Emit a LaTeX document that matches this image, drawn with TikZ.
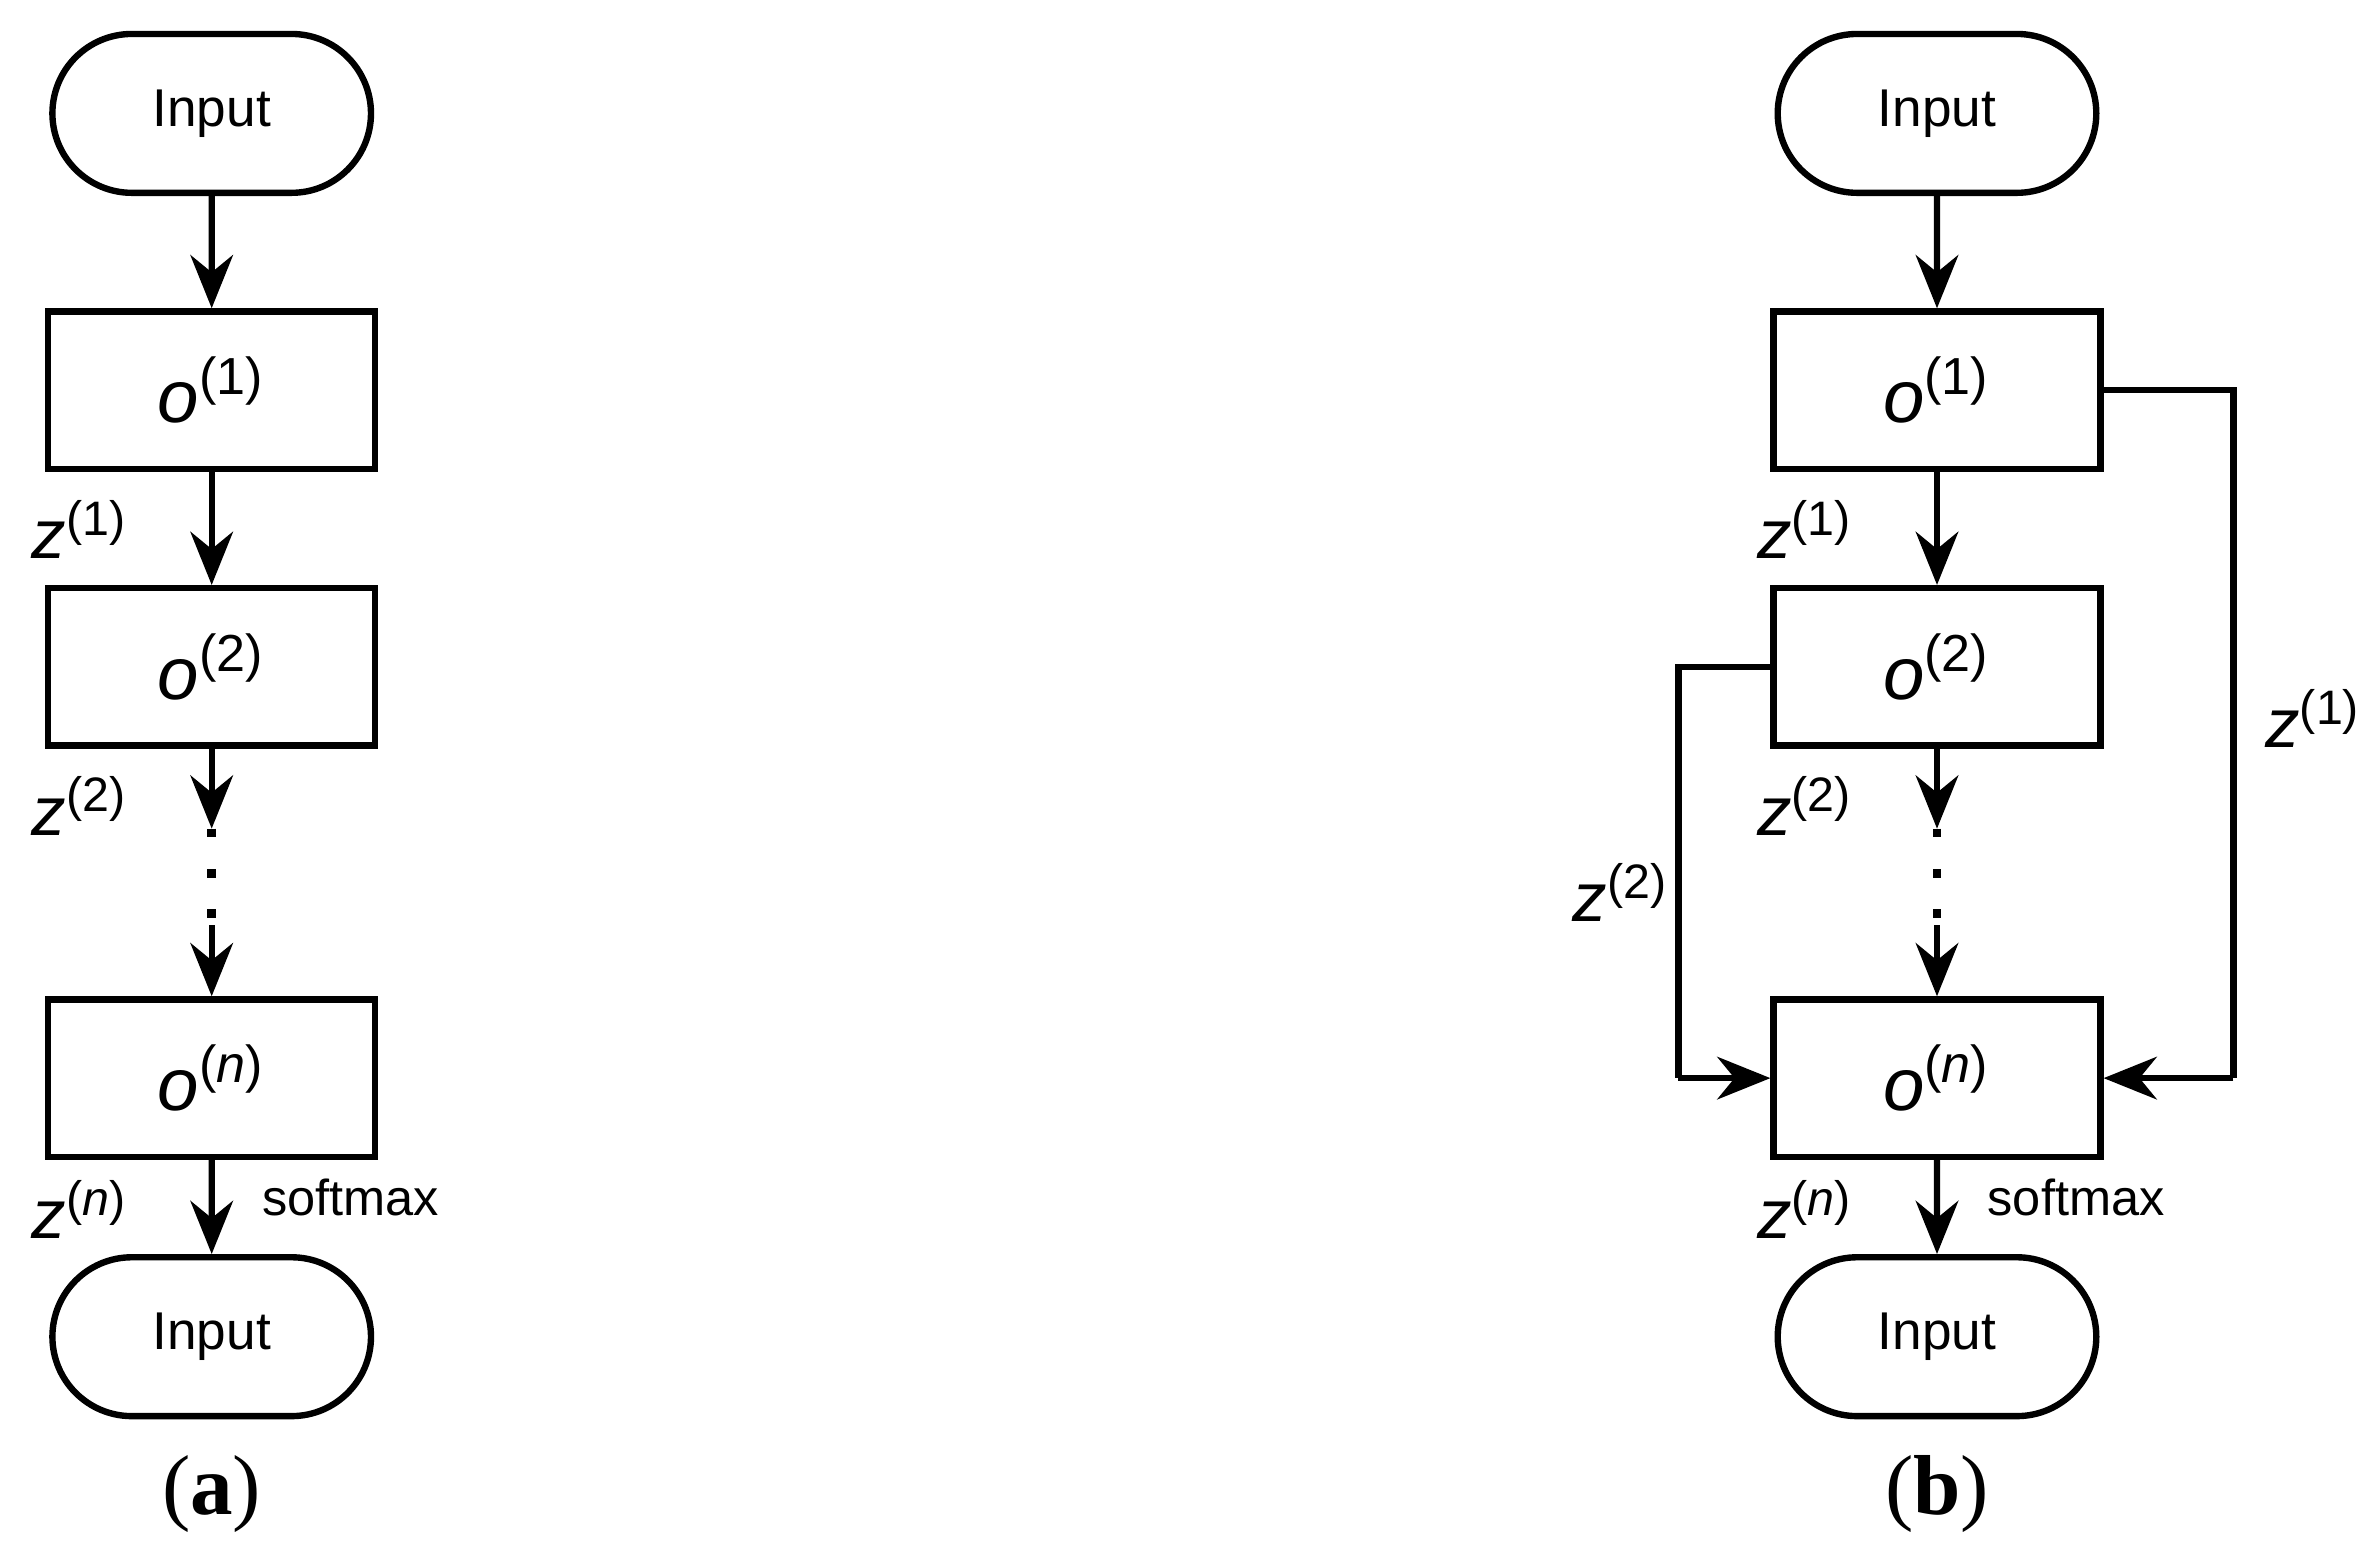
\documentclass[tikz,border=0pt]{standalone}
\usepackage{fontspec}
\setmainfont{Liberation Sans}
\newfontfamily\capfont{Liberation Serif}
\usetikzlibrary{arrows.meta,shapes.misc}
\begin{document}
\begin{tikzpicture}[x=0.01cm,y=-0.01cm,
  term/.style={draw,line width=1.2pt,rounded rectangle,minimum width=2.34cm,minimum height=1.05cm,font=\fontsize{10}{12}\selectfont},
  box/.style={draw,line width=1.2pt,rectangle,minimum width=2.16cm,minimum height=1.04cm,font=\fontsize{14}{16}\selectfont},
  arr/.style={line width=1.2pt,-{Stealth[length=10pt,width=8pt]}},
  ln/.style={line width=1.2pt},
  dot/.style={line width=1.6pt,dash pattern=on 1.6pt off 6pt},
  zl/.style={font=\fontsize{13}{15}\selectfont},
  sm/.style={font=\fontsize{9.5}{11}\selectfont},
  captext/.style={font=\capfont\fontsize{16}{18}\selectfont}]
\useasboundingbox (0,0) rectangle (1568,1025);
\foreach \p/\dx in {a/0,b/1141}{
\begin{scope}[xshift=\dx*0.01cm]
\node[term] (\p in) at (140,75) {Input};
\node[box] (\p o1) at (140,258) {\textit{o}\textsuperscript{(1)}};
\node[box] (\p o2) at (140,441) {\textit{o}\textsuperscript{(2)}};
\node[box] (\p on) at (140,713) {\textit{o}\textsuperscript{(\textit{n})}};
\node[term] (\p out) at (140,884) {Input};
\coordinate (\p d1) at (140,548);
\coordinate (\p d2) at (140,612);
\draw[arr] (\p in) -- (\p o1);
\draw[arr] (\p o1) -- (\p o2);
\draw[arr] (\p o2) -- (\p d1);
\draw[dot] (\p d1) -- (\p d2);
\draw[arr] (\p d2) -- (\p on);
\draw[arr] (\p on) -- (\p out);
\node[zl] (\p z1) at (53,350) {\textit{z}\textsuperscript{(1)}};
\node[zl] (\p z2) at (53,533) {\textit{z}\textsuperscript{(2)}};
\node[zl] (\p zn) at (53,800) {\textit{z}\textsuperscript{(\textit{n})}};
\node[sm] (\p sm) at (232,792) {softmax};
\node[captext] (\p cap) at (140,988) {(\textbf{\p})};
\end{scope}}
\coordinate (r1) at (1477,258);
\coordinate (r2) at (1477,713);
\coordinate (l1) at (1110,441);
\coordinate (l2) at (1110,713);
\draw[ln] (bo1.east |- r1) -- (r1) -- (r2);
\draw[arr] (r2) -- (bon.east);
\draw[ln] (bo2.west |- l1) -- (l1) -- (l2);
\draw[arr] (l2) -- (bon.west);
\node[zl] (rz) at (1530,475) {\textit{z}\textsuperscript{(1)}};
\node[zl] (lz) at (1072,590) {\textit{z}\textsuperscript{(2)}};
\end{tikzpicture}
\end{document}
